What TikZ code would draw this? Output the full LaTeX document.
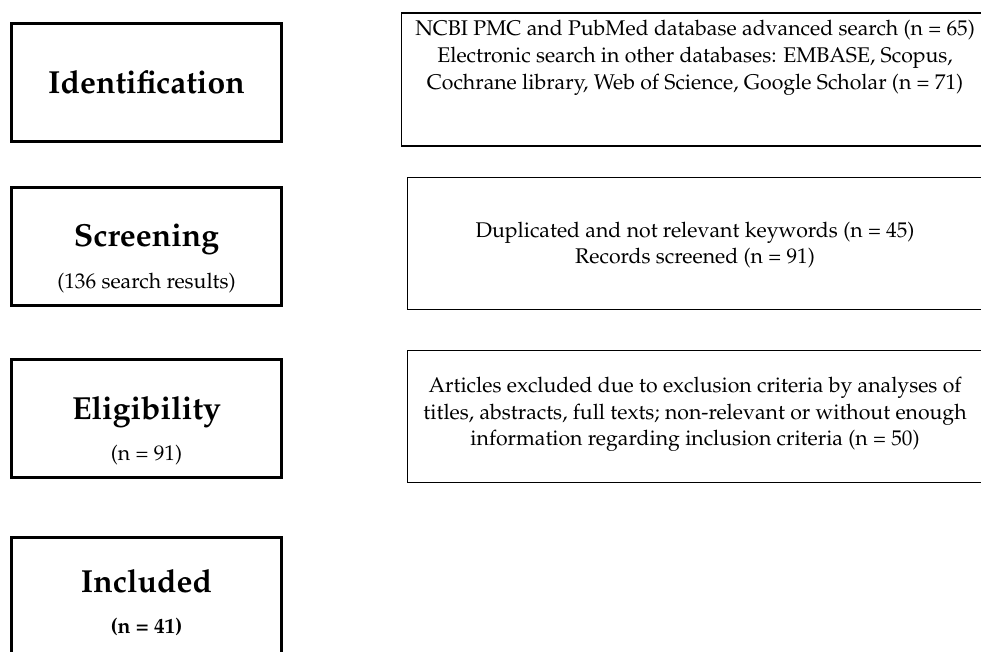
\documentclass[tikz,border=0pt]{standalone}
\usepackage[T1]{fontenc}
\usepackage{mathpazo}
\usepackage{tikz}
\usetikzlibrary{positioning}
\tikzset{
	font={\upshape\selectfont}}
\tikzstyle{stage} =  [rectangle, draw=black, line width=2.2pt, minimum width=7.14cm, minimum height=3.12cm, align=center, inner sep=0pt, font=\fontsize{24}{29}\selectfont\bfseries]
\tikzstyle{record} = [rectangle, draw=black, line width=1.1pt, minimum width=16.5cm, anchor=west]
\tikzstyle{note} =   [align=center, inner sep=0pt, font=\fontsize{16}{20}\selectfont]
\newcommand{\stagecount}[1]{{\fontsize{16}{19}\selectfont\mdseries #1}}
\newcommand{\push}[1]{\rule{0pt}{#1}}

\begin{document}
\begin{tikzpicture}[node distance = 4.55cm, auto]
\useasboundingbox (0,0) rectangle (25.955,-17.224);

% Phasen
\node[stage] at (3.876,-2.183) (ident){Identification};
\node[stage, below of=ident, yshift=0.21cm](screen){\push{35pt}Screening\\[2pt]\stagecount{(136 search results)}};
\node[stage, below of=screen](elig){\push{36pt}Eligibility\\[2pt]\stagecount{(n = 91)}};
\node[stage, below of=elig, yshift=-0.16cm](incl){\push{26pt}Included\\[2pt]\stagecount{\bfseries (n = 41)}};

% Datensaetze
\node[record, minimum height=3.53cm] at (10.60,-2.103) (searchbox){};
\node[record, minimum height=3.48cm] at (10.76,-6.443) (dupbox){};
\node[record, minimum height=3.48cm] at (10.76,-11.02) (exclbox){};
\node[note] at (18.39,-1.53) (search){NCBI PMC and PubMed database advanced search (n = 65)\\Electronic search in other databases: EMBASE, Scopus,\\Cochrane library, Web of Science, Google Scholar (n = 71)};
\node[note] at (18.39,-6.48) (dup){Duplicated and not relevant keywords (n = 45)\\Records screened (n = 91)};
\node[note] at (18.39,-10.97) (excl){Articles excluded due to exclusion criteria by analyses of\\titles, abstracts, full texts; non-relevant or without enough\\information regarding inclusion criteria (n = 50)};

\end{tikzpicture}
\end{document}
